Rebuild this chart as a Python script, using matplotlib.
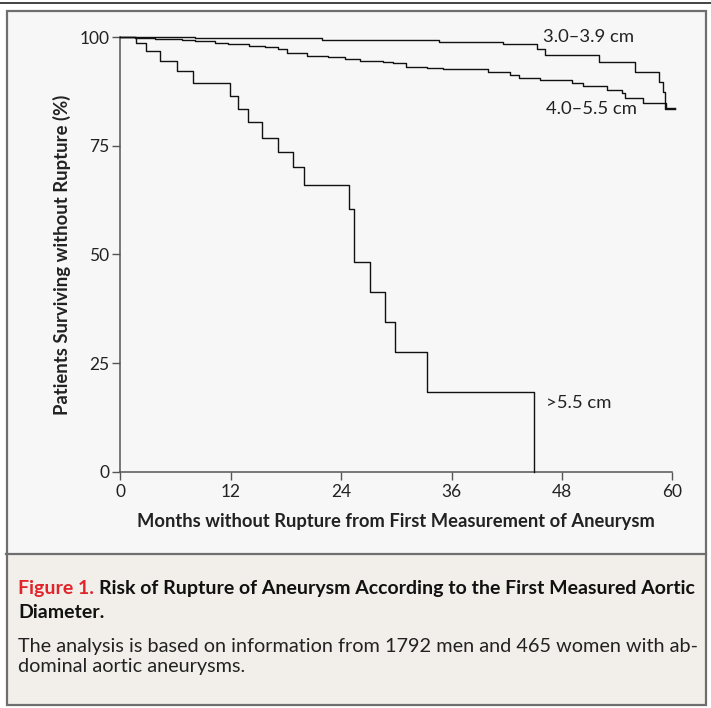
import matplotlib
matplotlib.use("Agg")
import matplotlib.pyplot as plt
from matplotlib.patches import Rectangle
from matplotlib.lines import Line2D

# ---------------- data ----------------
t_small = [0, 8.1, 21.9, 34.6, 41.6, 45.3, 46.2, 52.0, 56.0, 58.6, 59.0, 59.2, 60.3]
s_small = [100, 99.8, 99.4, 99.0, 98.4, 97.3, 95.9, 94.2, 92.1, 89.8, 87.4, 83.6, 83.6]

t_mid = [0, 1.6, 3.8, 6.7, 8.1, 10.3, 11.7, 14.0, 15.7, 17.1, 18.1, 20.3, 22.6, 24.4,
         26.1, 28.6, 29.6, 31.1, 33.3, 35.1, 40.0, 42.4, 43.3, 45.6, 49.1, 50.3, 52.9,
         54.5, 54.9, 56.8, 59.3, 60.3]
s_mid = [100, 99.8, 99.6, 99.4, 99.2, 98.8, 98.5, 98.1, 97.7, 97.2, 96.3, 95.7, 95.4, 94.9,
         94.6, 94.4, 94.0, 93.2, 93.0, 92.7, 92.1, 91.3, 90.7, 90.2, 89.4, 88.7, 87.9,
         87.1, 86.1, 84.9, 83.8, 83.8]

t_large = [0, 1.67, 2.76, 4.32, 6.13, 7.93, 11.92, 12.83, 13.85, 15.43, 17.11, 18.74,
           19.97, 24.89, 25.43, 27.17, 28.8, 29.9, 33.3, 45.0]
s_large = [100, 98.6, 96.9, 94.6, 92.3, 89.5, 86.5, 83.5, 80.4, 76.9, 73.5, 70.2,
           66.0, 60.4, 48.3, 41.4, 34.5, 27.6, 18.4, 0]

x_ticks = [0, 12, 24, 36, 48, 60]
y_ticks = [0, 25, 50, 75, 100]
labels = ["3.0\u20133.9 cm", "4.0\u20135.5 cm", ">5.5 cm"]
label_pos = [(45.95, 100.0), (46.3, 83.6), (46.3, 15.8)]

x_label = "Months without Rupture from First Measurement of Aneurysm"
y_label = "Patients Surviving without Rupture (%)"
cap_fig = "Figure 1."
cap_title1 = "Risk of Rupture of Aneurysm According to the First Measured Aortic"
cap_title2 = "Diameter."
cap_body1 = "The analysis is based on information from 1792 men and 465 women with ab-"
cap_body2 = "dominal aortic aneurysms."

# ---------------- figure ----------------
W, H = 711, 708
FONT = ["Lato", "DejaVu Sans"]
plt.rcParams["font.family"] = FONT
fig = plt.figure(figsize=(W / 100, H / 100), dpi=100)
fig.patch.set_facecolor("white")
r = fig.canvas.get_renderer()

def fx(x):
    return x / W

def fy(y):
    return 1 - y / H

def fit(txt, target, vertical=False):
    for _ in range(3):
        bb = txt.get_window_extent(renderer=r)
        cur = bb.height if vertical else bb.width
        txt.set_fontsize(txt.get_fontsize() * target / cur)

# top rule
fig.add_artist(Line2D([0, 1], [fy(2.8), fy(2.8)], transform=fig.transFigure,
                      color="#222222", lw=1.2))
# box: chart area and caption area
fig.add_artist(Rectangle((fx(6), fy(554)), fx(706) - fx(6), fy(10) - fy(554),
                         transform=fig.transFigure, facecolor="#f7f7f7",
                         edgecolor="none", zorder=0))
fig.add_artist(Rectangle((fx(6), fy(705)), fx(706) - fx(6), fy(554) - fy(705),
                         transform=fig.transFigure, facecolor="#f2eee9",
                         edgecolor="none", zorder=0))
fig.add_artist(Rectangle((fx(6.5), fy(705)), fx(705.5) - fx(6.5), fy(10.5) - fy(705),
                         transform=fig.transFigure, facecolor="none",
                         edgecolor="#6e6e6e", lw=1.6, zorder=1))
fig.add_artist(Line2D([fx(6), fx(706)], [fy(554), fy(554)], transform=fig.transFigure,
                      color="#6e6e6e", lw=1.6))

# axes
ax = fig.add_axes([fx(120.3), fy(471.7), fx(672.3) - fx(120.3), fy(37.3) - fy(471.7)])
ax.set_facecolor("none")
ax.set_xlim(0, 60)
ax.set_ylim(0, 100)
for sp in ["top", "right"]:
    ax.spines[sp].set_visible(False)
for sp in ["left", "bottom"]:
    ax.spines[sp].set_color("#555555")
    ax.spines[sp].set_linewidth(1.1)
ax.set_xticks(x_ticks)
ax.set_yticks(y_ticks)
ax.tick_params(direction="out", length=5.8, width=1.0, color="#555555",
               labelsize=12.5, labelcolor="#222222", pad=2)
ax.tick_params(axis="x", pad=3)

for t, s in [(t_small, s_small), (t_mid, s_mid), (t_large, s_large)]:
    ax.step(t, s, where="post", color="#111111", lw=1.0, clip_on=False, zorder=3)

ann = []
for lab, (xx, yy) in zip(labels, label_pos):
    ann.append(ax.text(xx, yy, lab, fontsize=12, color="#222222", ha="left", va="center"))
fit(ann[0], 91)
for a in ann[1:]:
    a.set_fontsize(ann[0].get_fontsize())

xl = ax.set_xlabel(x_label, fontsize=13, fontweight="bold", color="#222222")
yl = ax.set_ylabel(y_label, fontsize=13, fontweight="bold", color="#222222")
ax.xaxis.set_label_coords(0.5, (471.7 - 522) / 434.4)
ax.yaxis.set_label_coords((62 - 120.3) / 552, 0.5)
xl.set_verticalalignment("center")
yl.set_verticalalignment("center")
fit(xl, 520)
fit(yl, 320, vertical=True)

# caption
t1 = fig.text(fx(18), fy(594), cap_fig, color="#e2232a", fontsize=14, fontweight="bold",
              va="baseline", ha="left")
t2 = fig.text(fx(100), fy(594), cap_title1, color="#111111", fontsize=14,
              fontweight="bold", va="baseline", ha="left")
for _ in range(4):
    b1 = t1.get_window_extent(renderer=r)
    t2.set_x((b1.x1 + 5) / W)
    b2 = t2.get_window_extent(renderer=r)
    scale = (695 - 18) / (b2.x1 - b1.x0)
    t1.set_fontsize(t1.get_fontsize() * scale)
    t2.set_fontsize(t2.get_fontsize() * scale)
b1 = t1.get_window_extent(renderer=r)
t2.set_x((b1.x1 + 5) / W)
t3 = fig.text(fx(18), fy(618), cap_title2, color="#111111", fontsize=t2.get_fontsize(),
              fontweight="bold", va="baseline", ha="left")
t4 = fig.text(fx(18), fy(652), cap_body1, color="#222222", fontsize=14, va="baseline",
              ha="left")
fit(t4, 697 - 18)
t5 = fig.text(fx(18), fy(672), cap_body2, color="#222222", fontsize=t4.get_fontsize(),
              va="baseline", ha="left")

fig.savefig("out.png", dpi=100, facecolor="white")
